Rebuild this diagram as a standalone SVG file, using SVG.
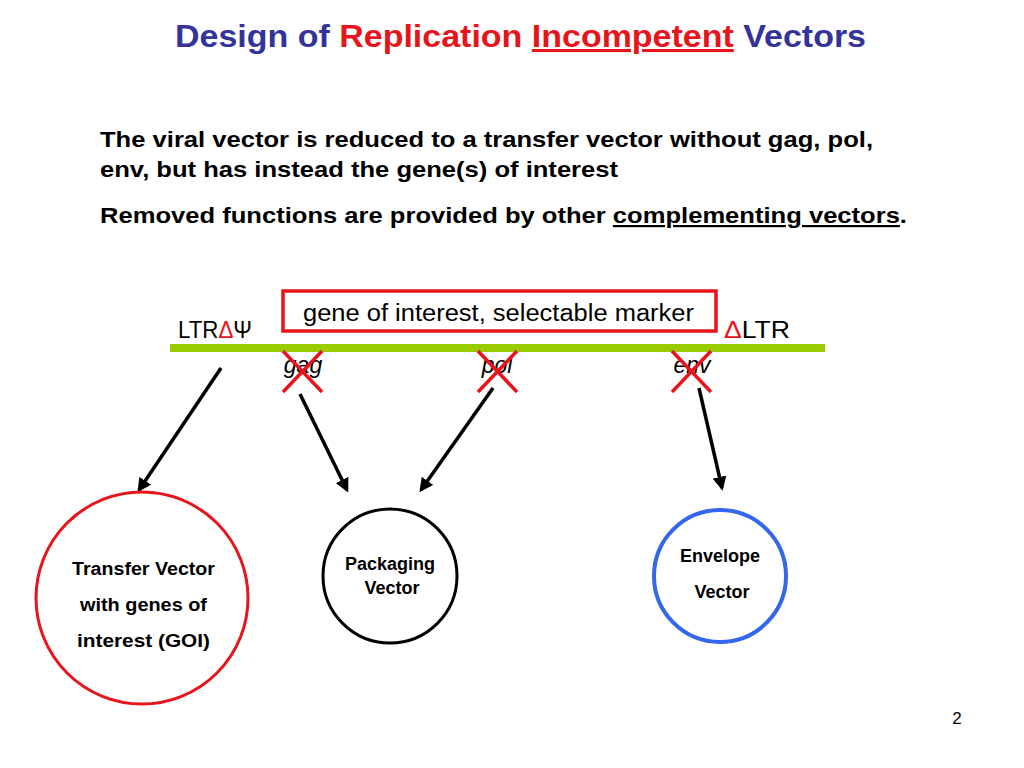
<svg xmlns="http://www.w3.org/2000/svg" width="1024" height="768" viewBox="0 0 1024 768">
<defs>
<style>
.b{font-family:"Liberation Sans",Arial,sans-serif;font-weight:bold;fill:#000}
.r{font-family:"Liberation Sans",Arial,sans-serif;fill:#000}
.x{stroke:#e8141b;stroke-width:3.5}
.a{stroke:#000;stroke-width:3.5;fill:none;marker-end:url(#ah)}
</style>
<marker id="ah" viewBox="0 0 10 10" refX="8" refY="5" markerWidth="4" markerHeight="4" orient="auto"><path d="M0,0L10,5L0,10z" fill="#000"/></marker>
</defs>
<rect width="1024" height="768" fill="#fff"/>
<text x="175" y="47" font-size="31" class="b" style="fill:#333399" textLength="691" lengthAdjust="spacingAndGlyphs">Design of <tspan fill="#e8141b">Replication</tspan> <tspan fill="#e8141b" text-decoration="underline">Incompetent</tspan> Vectors</text>
<text x="100" y="147" font-size="22" class="b" textLength="773" lengthAdjust="spacingAndGlyphs">The viral vector is reduced to a transfer vector without gag, pol,</text>
<text x="100" y="177" font-size="22" class="b" textLength="518" lengthAdjust="spacingAndGlyphs">env, but has instead the gene(s) of interest</text>
<text x="100" y="223" font-size="22" class="b" textLength="807" lengthAdjust="spacingAndGlyphs">Removed functions are provided by other <tspan text-decoration="underline">complementing vectors</tspan>.</text>
<g id="genebox"><rect x="283" y="291" width="433" height="40" fill="none" stroke="#e8141b" stroke-width="3.5"/>
<text x="303" y="321" font-size="23" class="r" textLength="391" lengthAdjust="spacingAndGlyphs">gene of interest, selectable marker</text></g>
<g id="backbone"><rect x="170" y="344" width="655" height="8" fill="#99cc00"/>
<text x="178" y="338" font-size="23" class="r" textLength="74" lengthAdjust="spacingAndGlyphs">LTR<tspan fill="#e8141b">Δ</tspan>Ψ</text>
<text x="724" y="338" font-size="23" class="r" textLength="66" lengthAdjust="spacingAndGlyphs"><tspan fill="#e8141b">Δ</tspan>LTR</text>
<text x="303" y="373" text-anchor="middle" font-size="23" font-style="italic" class="r">gag</text>
<text x="497" y="373" text-anchor="middle" font-size="23" font-style="italic" class="r">pol</text>
<text x="692" y="373" text-anchor="middle" font-size="23" font-style="italic" class="r">env</text>
<path class="x" d="M283,351L322,392M322,351L283,392M478,351L517,392M517,351L478,392M672,351L711,392M711,351L672,392"/></g>
<g id="connectors">
<line class="a" x1="221" y1="368" x2="139" y2="490"/>
<line class="a" x1="300" y1="394" x2="347" y2="490"/>
<line class="a" x1="493" y1="388" x2="421" y2="490"/>
<line class="a" x1="699" y1="388" x2="722" y2="488"/>
</g>
<g id="transfer"><circle cx="142" cy="598" r="106" fill="none" stroke="#e8141b" stroke-width="3"/>
<text x="72" y="575" font-size="18" class="b" textLength="143" lengthAdjust="spacingAndGlyphs">Transfer Vector</text>
<text x="80" y="611" font-size="18" class="b" textLength="127" lengthAdjust="spacingAndGlyphs">with genes of</text>
<text x="77" y="647" font-size="18" class="b" textLength="133" lengthAdjust="spacingAndGlyphs">interest  (GOI)</text></g>
<g id="packaging"><circle cx="390" cy="576" r="67" fill="none" stroke="#000" stroke-width="3"/>
<text x="390" y="570" text-anchor="middle" font-size="18" class="b">Packaging</text>
<text x="392" y="594" text-anchor="middle" font-size="18" class="b">Vector</text></g>
<g id="envelope"><circle cx="720" cy="576" r="66" fill="none" stroke="#3366ee" stroke-width="4"/>
<text x="720" y="562" text-anchor="middle" font-size="18" class="b">Envelope</text>
<text x="722" y="598" text-anchor="middle" font-size="18" class="b">Vector</text></g>
<text x="957" y="724" text-anchor="middle" font-size="17" class="r">2</text>
</svg>
